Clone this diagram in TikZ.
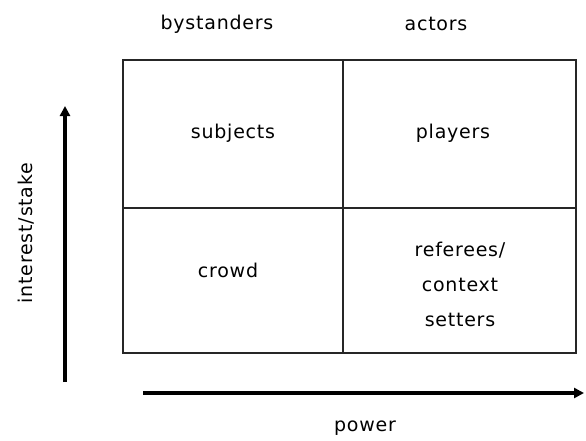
\documentclass[tikz,border=0pt]{standalone}
\usepackage{fontspec}
\setmainfont{DejaVu Sans}[LetterSpace=4]
\usetikzlibrary{arrows.meta}

\begin{document}
\begin{tikzpicture}[x=1pt, y=-1pt, >={Triangle[length=10pt, width=10pt]}]

  % Styles for the grid and the labels
  \tikzset{
    gridline/.style={line width=1.8pt, black!85},
    axis/.style={line width=3.2pt, ->},
    lbl/.style={font=\fontsize{19}{35}\selectfont, align=center}
  }

  \useasboundingbox (0,0) rectangle (586,440);

  % 1. Corners of the grid
  \coordinate (TL) at (123,60);
  \coordinate (BR) at (576,353);
  \coordinate (MT) at (343,60);
  \coordinate (MB) at (343,353);
  \coordinate (ML) at (123,208);
  \coordinate (MR) at (576,208);

  % 2. Ends of the axes
  \coordinate (Ybot) at (65,382);
  \coordinate (Ytop) at (65,106);
  \coordinate (Xleft) at (143,393);
  \coordinate (Xright) at (584,393);

  % --- GRID ---
  \draw[gridline] (TL) rectangle (BR);
  \draw[gridline] (MT) -- (MB);
  \draw[gridline] (ML) -- (MR);

  % --- AXES ---
  \draw[axis] (Ybot) -- (Ytop);
  \draw[axis] (Xleft) -- (Xright);

  % --- LABELS ---
  \node[lbl] (bystanders) at (217,24) {bystanders};
  \node[lbl] (actors) at (436,24) {actors};
  \node[lbl] (subjects) at (233,133) {subjects};
  \node[lbl] (players) at (453,133) {players};
  \node[lbl] (crowd) at (228,270) {crowd};
  \node[lbl] (referees) at (460,284) {referees/\\context\\setters};
  \node[lbl, rotate=90] (interest) at (26,233) {interest/stake};
  \node[lbl] (power) at (365,428) {power};

\end{tikzpicture}
\end{document}
